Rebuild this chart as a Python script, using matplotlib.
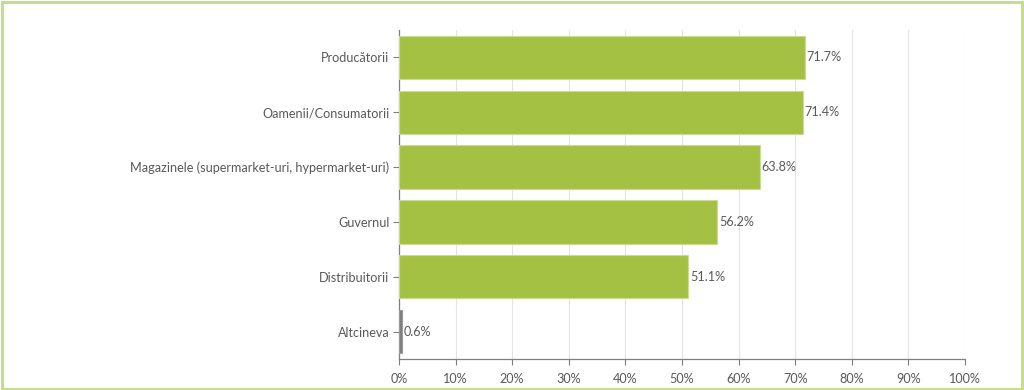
import matplotlib
matplotlib.use("Agg")
import matplotlib.pyplot as plt
from matplotlib.patches import Rectangle
from matplotlib.ticker import FuncFormatter

categories = ["Producătorii", "Oamenii/Consumatorii",
              "Magazinele (supermarket-uri, hypermarket-uri)",
              "Guvernul", "Distribuitorii", "Altcineva"]
values = [71.7, 71.4, 63.8, 56.2, 51.1, 0.6]
colors = ["#a4c144"] * 5 + ["#7f7f7f"]
edges = ["#c9dc93"] * 5 + ["#9a9a9a"]
xticks = list(range(0, 101, 10))

plt.rcParams['font.family'] = ['Lato', 'DejaVu Sans']
text_color = "#595959"
fs = 9.1

fig = plt.figure(figsize=(10.24, 3.9), dpi=100)
ax = fig.add_axes([399/1024, 1 - 359/390, (965-399)/1024, (359-30)/390])

ypos = list(range(len(categories)))
ax.barh(ypos, values, height=0.79, color=colors, edgecolor=edges, linewidth=0.8, zorder=3)
ax.set_ylim(len(categories) - 0.5, -0.5)
ax.set_xlim(0, 100)
ax.set_yticks(ypos)
ax.set_yticklabels(categories, fontsize=fs, color=text_color)
ax.set_xticks(xticks)
ax.xaxis.set_major_formatter(FuncFormatter(lambda v, p: f"{int(v)}%"))
ax.tick_params(axis='x', labelsize=fs, labelcolor=text_color, color="#7f7f7f", length=4, width=0.8, pad=6)
ax.tick_params(axis='y', color="#7f7f7f", length=4, width=0.8, pad=3)
ax.grid(axis='x', color="#e3e3e3", linewidth=0.8, zorder=0)
for s in ["top", "right"]:
    ax.spines[s].set_visible(False)
for s in ["left", "bottom"]:
    ax.spines[s].set_color("#7f7f7f")
    ax.spines[s].set_linewidth(0.9)

for y, v in zip(ypos, values):
    ax.text(v + 0.3, y, f"{v}%", va="center", ha="left", fontsize=fs, color=text_color, zorder=4)

fig.patches.append(Rectangle((0.0015, 0.003), 0.997, 0.993, transform=fig.transFigure,
                             fill=False, edgecolor="#c5de8a", linewidth=2.2))

fig.savefig("out.png", dpi=100)
